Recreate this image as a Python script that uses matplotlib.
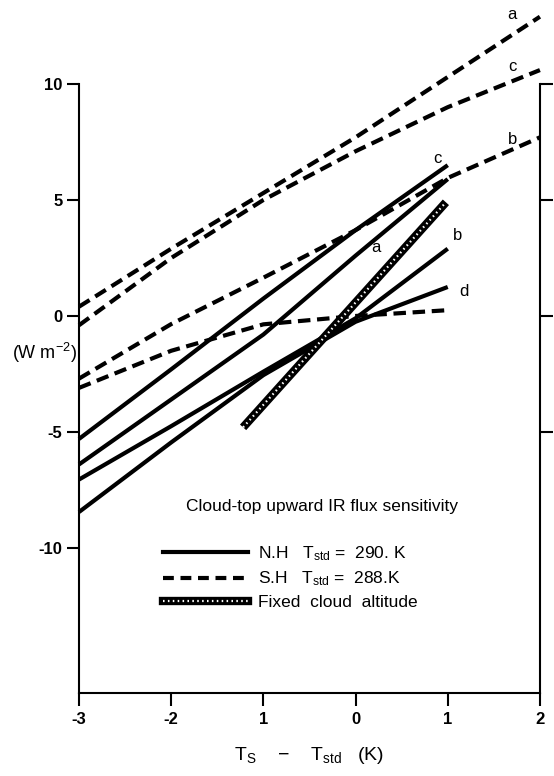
import matplotlib
matplotlib.use('Agg')
import matplotlib.pyplot as plt
from matplotlib.lines import Line2D
from matplotlib.legend_handler import HandlerTuple

plt.rcParams['font.family'] = ['Liberation Sans', 'DejaVu Sans']
plt.rcParams['mathtext.default'] = 'regular'

# N.H. curves (solid), Tstd = 290 K
x_nh = [-3, -2, -1, 0, 1]
nh_a = [-6.4, -3.6, -0.8, 2.6, 5.9]
nh_b = [-7.05, -4.75, -2.4, -0.1, 2.9]
nh_c = [-5.3, -2.3, 0.75, 3.7, 6.5]
nh_d = [-8.45, -5.45, -2.55, -0.25, 1.25]

# S.H. curves (dashed), Tstd = 288 K
x_sh = [-3, -2, -1, 0, 1, 2]
sh_a = [0.4, 2.9, 5.3, 7.7, 10.3, 12.9]
sh_b = [-2.7, -0.35, 1.65, 3.7, 5.95, 7.7]
sh_c = [-0.4, 2.5, 5.0, 7.1, 9.0, 10.6]
x_sh_d = [-3, -2, -1, 0, 1]
sh_d = [-3.1, -1.5, -0.36, 0.0, 0.25]

# fixed cloud altitude
x_fix = [-1.22, 0.98]
y_fix = [-4.8, 4.9]

xticks = [-3, -2, -1, 0, 1, 2]
xticklabels = ['-3', '-2', '1', '0', '1', '2']
yticks = [10, 5, 0, -5, -10]
yticklabels = ['10', '5', '0', '-5', '-10']

fig = plt.figure(figsize=(5.54, 7.76), dpi=100)
ax = fig.add_axes([0.1426, 0.107, 0.832, 0.893])

LW = 3.0
DASH = (0, (3, 1.6))
for y in (nh_a, nh_b, nh_c, nh_d):
    ax.plot(x_nh, y, color='black', lw=LW, solid_capstyle='butt', clip_on=False)
for y in (sh_a, sh_b, sh_c):
    ax.plot(x_sh, y, color='black', lw=LW, linestyle=DASH, clip_on=False)
ax.plot(x_sh_d, sh_d, color='black', lw=LW, linestyle=DASH, clip_on=False)

HATCH = (0, (0.7, 1.5))
ax.plot(x_fix, y_fix, color='black', lw=6, solid_capstyle='butt')
ax.plot(x_fix, y_fix, color='white', lw=1.6, linestyle=HATCH)

# curve letters
fs = 12
ax.text(1.65, 13.0, 'a', fontsize=fs, ha='left', va='center')
ax.text(1.66, 10.75, 'c', fontsize=fs, ha='left', va='center')
ax.text(1.65, 7.6, 'b', fontsize=fs, ha='left', va='center')
ax.text(0.84, 6.8, 'c', fontsize=fs, ha='left', va='center')
ax.text(0.17, 2.95, 'a', fontsize=fs, ha='left', va='center')
ax.text(1.06, 3.45, 'b', fontsize=fs, ha='left', va='center')
ax.text(1.13, 1.05, 'd', fontsize=fs, ha='left', va='center')

ax.text(-0.36, -8.2, 'Cloud-top upward IR flux sensitivity', fontsize=12.5,
        ha='center', va='center')

h_nh = Line2D([], [], color='black', lw=LW)
h_sh = Line2D([], [], color='black', lw=LW, linestyle=(0, (2.6, 1.6)))
h_fix = (Line2D([], [], color='black', lw=6),
         Line2D([], [], color='white', lw=1.6, linestyle=HATCH))
ax.legend([h_nh, h_sh, h_fix],
          ['N.H   T$_{std}$ =  290. K', 'S.H   T$_{std}$ =  288.K',
           'Fixed  cloud  altitude'],
          handler_map={tuple: HandlerTuple(ndivide=1, pad=0)},
          loc='upper left', bbox_to_anchor=(-2.09, -9.85),
          bbox_transform=ax.transData, frameon=False, fontsize=12.5,
          handlelength=4.9, handletextpad=0.57, labelspacing=0.38,
          borderpad=0, borderaxespad=0)

ax.set_xlim(-3, 2)
ax.set_ylim(-16.25, 13.62)
ax.set_xticks(xticks)
ax.set_xticklabels(xticklabels, fontsize=12, fontweight='bold')
ax.set_yticks(yticks)
ax.set_yticklabels(yticklabels, fontsize=12, fontweight='bold')
ax.tick_params(direction='out', length=9, width=1.5)
ax.tick_params(axis='y', pad=3)
ax.tick_params(axis='x', pad=5)

ax.spines['top'].set_visible(False)
ax.spines['right'].set_visible(False)
for s in ('left', 'bottom'):
    ax.spines[s].set_linewidth(1.5)
ax.spines['left'].set_bounds(-16.25, 10)

sec = ax.secondary_yaxis('right')
sec.set_yticks([10, 5, 0, -5])
sec.set_yticklabels([])
sec.tick_params(direction='out', length=9, width=1.5)
sec.spines['right'].set_linewidth(1.5)
sec.spines['right'].set_bounds(-16.25, 10)

ax.text(-3.02, -1.6, '(W m$^{-2}$)', fontsize=13, ha='right', va='center')
ax.set_xlabel('T$_S$    $-$    T$_{std}$   (K)', fontsize=14, labelpad=13)

fig.savefig('out.png', dpi=100)
